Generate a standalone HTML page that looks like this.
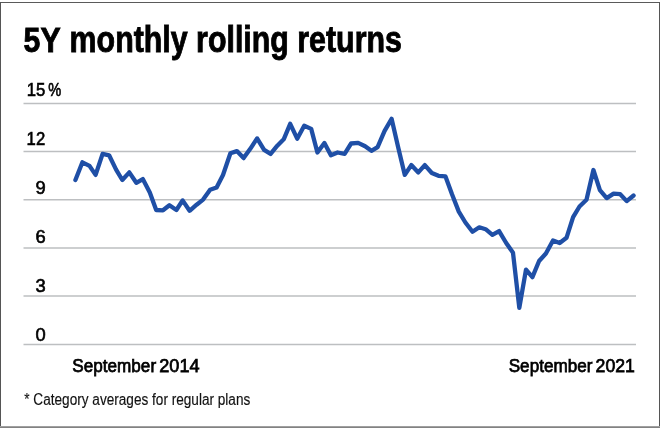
<!DOCTYPE html>
<html><head><meta charset="utf-8"><title>5Y monthly rolling returns</title>
<style>
html,body{margin:0;padding:0;background:#fff;}
body{width:660px;height:428px;overflow:hidden;font-family:"Liberation Sans",sans-serif;}
svg{display:block;}
text{font-family:"Liberation Sans",sans-serif;}
</style></head><body>
<svg width="660" height="428" viewBox="0 0 660 428">
<rect x="0" y="0" width="660" height="428" fill="#fff"/>
<!-- border -->
<rect x="0" y="2" width="660" height="1" fill="#5a5a5a"/>
<rect x="0" y="2" width="1" height="426" fill="#555"/>
<rect x="659" y="2" width="1" height="426" fill="#555"/>
<rect x="0" y="426" width="660" height="1" fill="#a0a0a0"/>
<rect x="0" y="427" width="660" height="1" fill="#828282"/>
<text y="52.3" font-weight="bold" fill="#000" stroke="#000" stroke-width="0.9"><tspan x="23.6" font-size="35.5" textLength="37" lengthAdjust="spacingAndGlyphs">5Y</tspan> <tspan x="69.6" font-size="37" textLength="332.3" lengthAdjust="spacingAndGlyphs">monthly rolling returns</tspan></text>
<line x1="23.5" x2="636" y1="103.4" y2="103.4" stroke="#bdbfc1" stroke-width="1.5"/>
<line x1="23.5" x2="636" y1="151.6" y2="151.6" stroke="#bdbfc1" stroke-width="1.5"/>
<line x1="23.5" x2="636" y1="199.7" y2="199.7" stroke="#bdbfc1" stroke-width="1.5"/>
<line x1="23.5" x2="636" y1="247.9" y2="247.9" stroke="#bdbfc1" stroke-width="1.5"/>
<line x1="23.5" x2="636" y1="296.1" y2="296.1" stroke="#bdbfc1" stroke-width="1.5"/>
<line x1="23.5" x2="636" y1="344.4" y2="344.4" stroke="#bdbfc1" stroke-width="1.5"/>
<text y="96" font-size="18" fill="#000" stroke="#000" stroke-width="0.6"><tspan x="26.8" textLength="18.6" lengthAdjust="spacingAndGlyphs">15</tspan><tspan x="48.3" textLength="13" lengthAdjust="spacingAndGlyphs">%</tspan></text>
<text x="26.6" y="144.9" font-size="18" fill="#000" stroke="#000" stroke-width="0.6" textLength="18.6" lengthAdjust="spacingAndGlyphs">12</text>
<text x="35.4" y="193.9" font-size="18" fill="#000" stroke="#000" stroke-width="0.6" textLength="10.2" lengthAdjust="spacingAndGlyphs">9</text>
<text x="35.4" y="243" font-size="18" fill="#000" stroke="#000" stroke-width="0.6" textLength="10.2" lengthAdjust="spacingAndGlyphs">6</text>
<text x="35.4" y="291.8" font-size="18" fill="#000" stroke="#000" stroke-width="0.6" textLength="10.2" lengthAdjust="spacingAndGlyphs">3</text>
<text x="35.4" y="340.7" font-size="18" fill="#000" stroke="#000" stroke-width="0.6" textLength="10.2" lengthAdjust="spacingAndGlyphs">0</text>
<path d="M75.4 180.0 L82.4 162.3 L89.5 165.9 L95.6 174.9 L102.6 153.9 L109.1 155.3 L116.1 169.6 L122.3 180.0 L129.3 172.4 L136.3 182.8 L142.8 179.1 L149.8 192.6 L156.2 210.0 L163.0 210.3 L169.4 205.2 L176.4 210.0 L182.6 200.4 L189.6 210.8 L196.6 204.7 L203.1 199.6 L210.1 189.8 L216.6 187.5 L223.0 175.0 L230.4 153.3 L236.9 151.1 L243.6 158.1 L250.1 149.1 L257.1 138.4 L264.1 149.9 L270.6 153.9 L277.3 145.7 L283.7 139.3 L290.2 123.8 L297.2 138.7 L304.2 125.8 L311.2 128.9 L317.4 152.5 L324.4 142.9 L330.9 155.3 L337.6 152.5 L344.6 153.9 L351.1 143.5 L358.1 142.9 L365.1 146.3 L371.4 150.8 L377.6 147.1 L384.6 130.9 L391.6 118.8 L398.1 146.9 L404.8 174.9 L411.3 165.1 L418.3 172.4 L424.8 165.1 L431.8 173.0 L438.5 175.8 L445.5 176.4 L452.0 194.2 L458.8 211.6 L465.4 222.5 L472.5 231.8 L479.3 227.3 L485.6 229.2 L492.4 234.8 L499.1 231.1 L506.2 243.0 L513.0 252.8 L519.3 307.8 L526.0 269.6 L532.4 277.1 L539.1 261.0 L545.9 253.5 L553.0 240.4 L559.7 243.0 L566.5 237.8 L573.1 217.2 L579.5 206.5 L586.5 199.7 L593.4 170.0 L599.9 190.2 L606.7 198.1 L613.6 193.6 L620.2 194.2 L626.7 201.1 L633.6 195.5" fill="none" stroke="#1f4fa6" stroke-width="4.3" stroke-linejoin="round" stroke-linecap="round"/>
<text y="371.5" font-size="19" fill="#000" stroke="#000" stroke-width="0.75"><tspan x="72.3" textLength="83.8" lengthAdjust="spacingAndGlyphs">September</tspan> <tspan x="159.3" textLength="40.3" lengthAdjust="spacingAndGlyphs">2014</tspan></text>
<text y="371.5" font-size="19" fill="#000" stroke="#000" stroke-width="0.75"><tspan x="508.7" textLength="83.8" lengthAdjust="spacingAndGlyphs">September</tspan> <tspan x="595.6" textLength="39.3" lengthAdjust="spacingAndGlyphs">2021</tspan></text>
<text x="24.3" y="405" font-size="16" fill="#111" stroke="#111" stroke-width="0.15" textLength="226" lengthAdjust="spacingAndGlyphs">* Category averages for regular plans</text>
</svg>
</body></html>
